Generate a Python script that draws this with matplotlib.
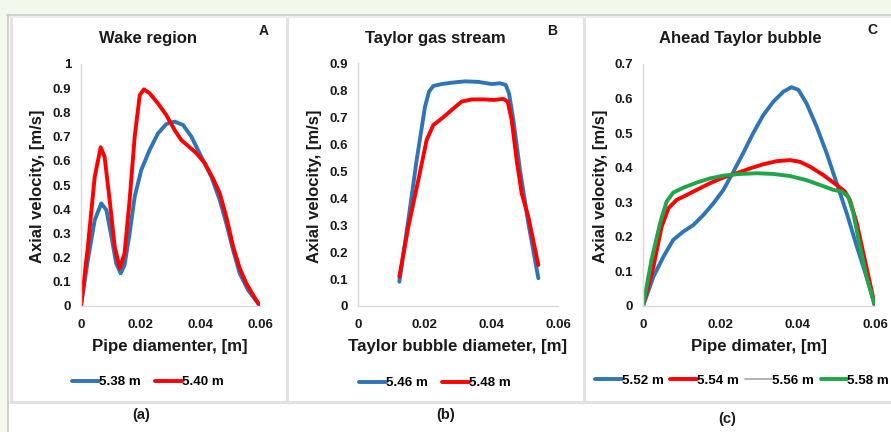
import matplotlib
matplotlib.use("Agg")
import matplotlib.pyplot as plt
from matplotlib.patches import Rectangle
from matplotlib.lines import Line2D

plt.rcParams["font.family"] = ["Liberation Sans", "DejaVu Sans"]
plt.rcParams["font.weight"] = "bold"
plt.rcParams["lines.solid_joinstyle"] = "round"
plt.rcParams["lines.solid_capstyle"] = "round"

# ---- data -------------------------------------------------------------
# (A) wake region
xa_538 = [0, 0.0023, 0.0046, 0.0068, 0.0085, 0.0102, 0.0118, 0.0133, 0.0146, 0.0163,
          0.018, 0.0202, 0.023, 0.0258, 0.0286, 0.0314, 0.0342, 0.037, 0.0403, 0.0437,
          0.0465, 0.0487, 0.051, 0.0532, 0.056, 0.06]
ya_538 = [0, 0.19, 0.355, 0.424, 0.397, 0.287, 0.176, 0.135, 0.169, 0.30,
          0.452, 0.562, 0.645, 0.713, 0.752, 0.762, 0.748, 0.70, 0.617, 0.534,
          0.438, 0.342, 0.231, 0.135, 0.066, 0]
xa_540 = [0, 0.0023, 0.0046, 0.0066, 0.0079, 0.0096, 0.0113, 0.013, 0.0146, 0.0163,
          0.018, 0.0197, 0.0211, 0.023, 0.0258, 0.0286, 0.0314, 0.0336, 0.0364, 0.0387,
          0.0415, 0.0442, 0.0465, 0.0487, 0.051, 0.0532, 0.0554, 0.0577, 0.06]
ya_540 = [0, 0.245, 0.534, 0.656, 0.617, 0.438, 0.245, 0.156, 0.218, 0.438,
          0.70, 0.872, 0.895, 0.879, 0.837, 0.789, 0.727, 0.686, 0.656, 0.631,
          0.59, 0.528, 0.466, 0.369, 0.245, 0.156, 0.094, 0.045, 0]

# (B) Taylor gas stream
xb_546 = [0.0124, 0.0151, 0.0176, 0.0201, 0.0213, 0.0226, 0.0251, 0.0281, 0.0321,
          0.0361, 0.0401, 0.0426, 0.0443, 0.0453, 0.0466, 0.0486, 0.0511, 0.0541]
yb_546 = [0.09, 0.319, 0.541, 0.739, 0.795, 0.816, 0.823, 0.828, 0.833,
          0.831, 0.823, 0.826, 0.82, 0.789, 0.69, 0.504, 0.307, 0.103]
xb_548 = [0.0124, 0.0151, 0.0181, 0.0206, 0.0226, 0.0256, 0.0281, 0.0311, 0.0341,
          0.0381, 0.0406, 0.0436, 0.0449, 0.0461, 0.0476, 0.0491, 0.0511, 0.0541]
yb_548 = [0.109, 0.294, 0.467, 0.616, 0.671, 0.70, 0.727, 0.758, 0.766,
          0.766, 0.764, 0.768, 0.758, 0.69, 0.541, 0.418, 0.331, 0.152]

# (C) ahead Taylor bubble
xc_552 = [0, 0.0027, 0.0053, 0.0078, 0.0104, 0.013, 0.0156, 0.0182, 0.0208, 0.0234,
          0.0259, 0.0285, 0.0311, 0.0337, 0.0363, 0.0384, 0.0402, 0.0423, 0.0449, 0.0475,
          0.0501, 0.0527, 0.0553, 0.0578, 0.06]
yc_552 = [0, 0.085, 0.143, 0.191, 0.215, 0.234, 0.263, 0.297, 0.336, 0.389,
          0.442, 0.50, 0.552, 0.591, 0.62, 0.633, 0.625, 0.586, 0.519, 0.442,
          0.355, 0.268, 0.172, 0.085, 0]
xc_554 = [0, 0.0027, 0.0048, 0.0066, 0.0087, 0.0113, 0.0139, 0.0173, 0.0208, 0.0242,
          0.0277, 0.0311, 0.0346, 0.038, 0.0406, 0.0432, 0.0466, 0.0501, 0.0522, 0.0535,
          0.0553, 0.057, 0.0587, 0.06]
yc_554 = [0, 0.114, 0.229, 0.283, 0.307, 0.321, 0.336, 0.355, 0.372, 0.384,
          0.398, 0.41, 0.419, 0.422, 0.417, 0.403, 0.379, 0.35, 0.331, 0.307,
          0.239, 0.152, 0.066, 0]
xc_558 = [0, 0.0022, 0.0044, 0.0061, 0.0078, 0.0104, 0.0139, 0.0173, 0.0208, 0.0251,
          0.0294, 0.0337, 0.038, 0.0423, 0.0458, 0.0492, 0.0514, 0.0531, 0.0544, 0.0561,
          0.0578, 0.06]
yc_558 = [0, 0.133, 0.239, 0.302, 0.328, 0.342, 0.357, 0.369, 0.377, 0.382,
          0.384, 0.382, 0.376, 0.364, 0.35, 0.336, 0.331, 0.316, 0.268, 0.172,
          0.085, 0]
xc_556 = xc_558
yc_556 = yc_558

BLUE = "#2f74b5"
RED = "#ff0000"
GREY = "#a5a5a5"
GREEN = "#1fa64a"
TXT = "#1a1a1a"

fig = plt.figure(figsize=(8.91, 4.32), dpi=100)
W, H = 891, 432


def fx(px):
    return px / W


def fy(py):
    return 1 - py / H


# page background and frame
fig.patches.append(Rectangle((0, fy(14)), 1, 14 / H, transform=fig.transFigure,
                             facecolor="#f3f8ed", edgecolor="none", zorder=0))
fig.patches.append(Rectangle((0, 0), fx(7), 1, transform=fig.transFigure,
                             facecolor="#f3f8ed", edgecolor="none", zorder=0))
fig.add_artist(Line2D([fx(7), 1], [fy(14.5), fy(14.5)], transform=fig.transFigure,
                      color="#c8c8c8", lw=1.2))
fig.add_artist(Line2D([fx(7.5), fx(7.5)], [0, fy(14.5)], transform=fig.transFigure,
                      color="#c8c8c8", lw=1.2))
for xs in (10.5, 286.5, 583.5):
    fig.add_artist(Line2D([fx(xs), fx(xs)], [fy(402), fy(17)], transform=fig.transFigure,
                          color="#e2e2e2", lw=2.2))
fig.add_artist(Line2D([fx(10), 1], [fy(402), fy(402)], transform=fig.transFigure,
                      color="#e2e2e2", lw=2.2))
fig.add_artist(Line2D([fx(10), 1], [fy(17), fy(17)], transform=fig.transFigure,
                      color="#ededed", lw=1.5))


def style(ax, ymax, ystep):
    ax.set_facecolor("none")
    for s in ("top", "right"):
        ax.spines[s].set_visible(False)
    for s in ("left", "bottom"):
        ax.spines[s].set_color("#d9d9d9")
        ax.spines[s].set_linewidth(1.0)
    ax.tick_params(length=0, labelsize=9.5, colors=TXT)
    ax.tick_params(axis="x", pad=9)
    ax.tick_params(axis="y", pad=7)
    ax.set_xlim(0, 0.06)
    ax.set_xticks([0, 0.02, 0.04, 0.06])
    ax.set_xticklabels(["0", "0.02", "0.04", "0.06"], fontweight="bold")
    n = int(round(ymax / ystep))
    ticks = [round(i * ystep, 2) for i in range(n + 1)]
    ax.set_ylim(0, ymax)
    ax.set_yticks(ticks)
    ax.set_yticklabels([("%g" % t) for t in ticks], fontweight="bold")


def add_axes(x0, x1, ytop):
    return fig.add_axes([fx(x0), fy(306), fx(x1 - x0), (306 - ytop) / H])


def labels(xlab, xc, ylab_x, title, tc, letter, lx, ly, sub, sx, sy):
    fig.text(fx(xc), fy(347), xlab, ha="center", va="center", fontsize=12.2,
             fontweight="bold", color=TXT)
    fig.text(fx(ylab_x), fy(186), "Axial velocity, [m/s]", rotation=90, ha="center",
             va="center", fontsize=12, fontweight="bold", color=TXT)
    fig.text(fx(tc), fy(39), title, ha="center", va="center", fontsize=12,
             fontweight="bold", color=TXT)
    fig.text(fx(lx), fy(ly), letter, ha="center", va="center", fontsize=10,
             fontweight="bold", color=TXT)
    fig.text(fx(sx), fy(sy), sub, ha="center", va="center", fontsize=10.5,
             fontweight="bold", color=TXT)


lw = 2.8
leg_kw = dict(loc="center", frameon=False, handlelength=2.0, handletextpad=0.0,
              prop={"weight": "bold", "size": 9.6})

# ---- panel A ----
axA = add_axes(81, 260, 64)
style(axA, 1.0, 0.1)
axA.plot(xa_538, ya_538, color=BLUE, lw=lw, label="5.38 m")
axA.plot(xa_540, ya_540, color=RED, lw=lw, label="5.40 m")
labels("Pipe diamenter, [m]", 170, 38, "Wake region", 148, "A", 264, 31, "(a)", 141, 415)
fig.legend(*axA.get_legend_handles_labels(), bbox_to_anchor=(fx(148), fy(382)),
           ncol=2, columnspacing=1.1, **leg_kw)

# ---- panel B ----
axB = add_axes(358, 558, 63.3)
style(axB, 0.9, 0.1)
axB.plot(xb_546, yb_546, color=BLUE, lw=lw, label="5.46 m")
axB.plot(xb_548, yb_548, color=RED, lw=lw, label="5.48 m")
labels("Taylor bubble diameter, [m]", 458, 315, "Taylor gas stream", 435, "B", 552, 31,
       "(b)", 446, 415)
fig.legend(*axB.get_legend_handles_labels(), bbox_to_anchor=(fx(435), fy(383)),
           ncol=2, columnspacing=1.1, **leg_kw)

# ---- panel C ----
axC = add_axes(643, 875, 64)
style(axC, 0.7, 0.1)
axC.plot(xc_552, yc_552, color=BLUE, lw=lw, label="5.52 m")
axC.plot(xc_554, yc_554, color=RED, lw=lw, label="5.54 m")
axC.plot(xc_556, yc_556, color=GREY, lw=1.2, label="5.56 m")
axC.plot(xc_558, yc_558, color=GREEN, lw=lw, label="5.58 m")
labels("Pipe dimater, [m]", 759, 600, "Ahead Taylor bubble", 740, "C", 872, 30,
       "(c)", 727, 419)
fig.legend(*axC.get_legend_handles_labels(), bbox_to_anchor=(fx(742), fy(381)),
           ncol=4, columnspacing=0.5, **leg_kw)

fig.savefig("out.png", dpi=100)
